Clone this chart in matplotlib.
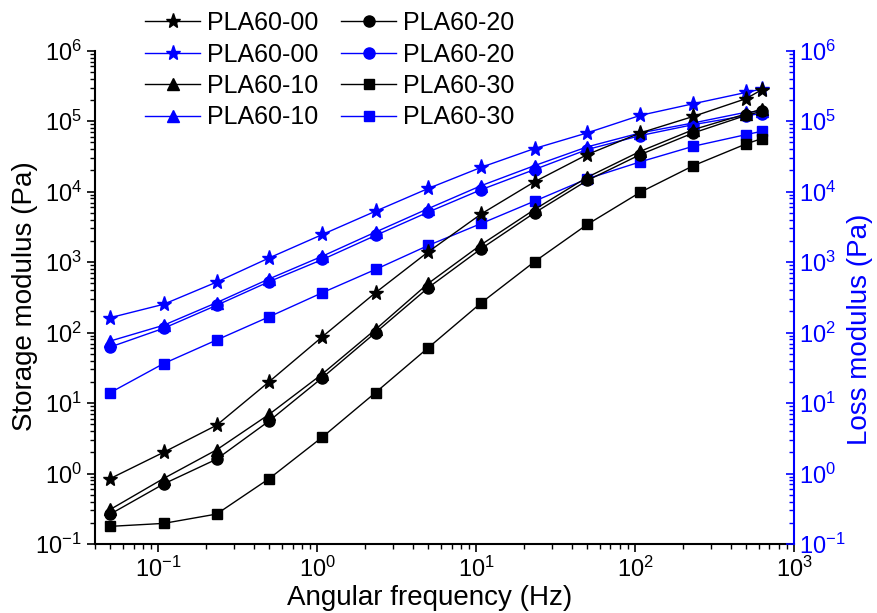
import matplotlib
matplotlib.use("Agg")
import matplotlib.pyplot as plt
from matplotlib.ticker import LogLocator, NullFormatter

plt.rcParams['font.family'] = ['Liberation Sans', 'DejaVu Sans']
plt.rcParams['mathtext.fontset'] = 'custom'
plt.rcParams['mathtext.rm'] = 'Liberation Sans'

# angular frequency (Hz)
freq = [0.05, 0.108, 0.233, 0.5, 1.08, 2.33, 5.0, 10.8, 23.3, 50, 108, 233, 500, 628]

# storage modulus (Pa)
storage_00 = [0.85, 2.0, 4.85, 20.2, 87.7, 369, 1400, 4850, 13800, 33600, 68200, 117000, 209000, 280000]
storage_10 = [0.31, 0.85, 2.17, 6.95, 26, 111, 499, 1780, 5580, 16000, 37400, 76000, 127000, 149000]
storage_20 = [0.266, 0.71, 1.6, 5.6, 23, 100, 434, 1560, 5000, 14400, 33600, 68200, 121000, 138000]
storage_30 = [0.178, 0.196, 0.266, 0.85, 3.3, 14.1, 61, 266, 1014, 3420, 9820, 23400, 47600, 56600]

# loss modulus (Pa)
loss_00 = [163, 252, 521, 1150, 2470, 5280, 11100, 22200, 40900, 68200, 121000, 177000, 256000, 286000]
loss_10 = [76, 127, 266, 580, 1216, 2670, 5750, 12200, 23400, 43200, 68200, 94500, 134000, 138000]
loss_20 = [62.5, 115, 244, 530, 1090, 2390, 5130, 10700, 20600, 39600, 62500, 89400, 120000, 128000]
loss_30 = [14.1, 36.3, 78.5, 168, 369, 788, 1725, 3540, 7330, 15200, 26500, 44100, 64500, 71900]

labels = ['PLA60-00', 'PLA60-10', 'PLA60-20', 'PLA60-30']
markers = ['*', '^', 'o', 's']
msizes = [11, 8, 8, 7.5]
storage = [storage_00, storage_10, storage_20, storage_30]
loss = [loss_00, loss_10, loss_20, loss_30]

BLUE = '#0000FF'

fig = plt.figure(figsize=(8.77, 6.13), dpi=100)
ax = fig.add_axes([95/877, 1 - 544/613, (794-95)/877, (544-50.7)/613])
ax2 = ax.twinx()

handles = []
for i in range(4):
    hk, = ax.plot(freq, storage[i], color='black', marker=markers[i], ms=msizes[i],
                  lw=1.0, label=labels[i], zorder=3)
    hb, = ax.plot(freq, loss[i], color=BLUE, marker=markers[i], ms=msizes[i],
                  lw=1.0, label=labels[i], zorder=2)
    handles += [hk, hb]

for a in (ax, ax2):
    a.set_xscale('log')
    a.set_yscale('log')
    a.set_ylim(0.1, 1e6)
    a.set_xlim(0.04, 1000)
    a.yaxis.set_major_locator(LogLocator(base=10, numticks=20))
    a.yaxis.set_minor_locator(LogLocator(base=10, subs=range(2, 10), numticks=20))
    a.yaxis.set_minor_formatter(NullFormatter())

ax.xaxis.set_major_locator(LogLocator(base=10, numticks=20))
ax.xaxis.set_minor_locator(LogLocator(base=10, subs=range(2, 10), numticks=20))
ax.xaxis.set_minor_formatter(NullFormatter())

ax.spines['top'].set_visible(False)
ax2.spines['top'].set_visible(False)
ax.spines['right'].set_visible(False)
ax2.spines['left'].set_visible(False)
ax2.spines['bottom'].set_visible(False)
ax2.spines['right'].set_color(BLUE)
for s in ('left', 'bottom'):
    ax.spines[s].set_linewidth(1.5)
ax2.spines['right'].set_linewidth(1.5)

ax.tick_params(axis='both', which='major', direction='out', length=6, width=1.2,
               labelsize=17, right=False, top=False)
ax.tick_params(axis='both', which='minor', direction='out', length=3.5, width=1.0,
               right=False, top=False)
ax2.tick_params(axis='y', which='major', direction='in', length=6, width=1.2,
                labelsize=17, colors=BLUE)
ax2.tick_params(axis='y', which='minor', direction='in', length=3.5, width=1.0, colors=BLUE)

fig.text(430/877, 1 - 598/613, 'Angular frequency (Hz)', fontsize=20,
         ha='center', va='center')
fig.text(25/877, 1 - 296/613, 'Storage modulus (Pa)', fontsize=20,
         ha='center', va='center', rotation=90)
fig.text(860/877, 1 - 329/613, 'Loss modulus (Pa)', fontsize=20, color=BLUE,
         ha='center', va='center', rotation=90)

fig.legend(handles=handles, labels=[h.get_label() for h in handles], ncol=2,
           loc='upper left', bbox_to_anchor=(145/877, 1 - 11/613), frameon=False,
           fontsize=18, handlelength=2.2, handletextpad=0.27, columnspacing=0.92,
           labelspacing=0.3, borderpad=0, borderaxespad=0)

fig.savefig('out.png', dpi=100)
